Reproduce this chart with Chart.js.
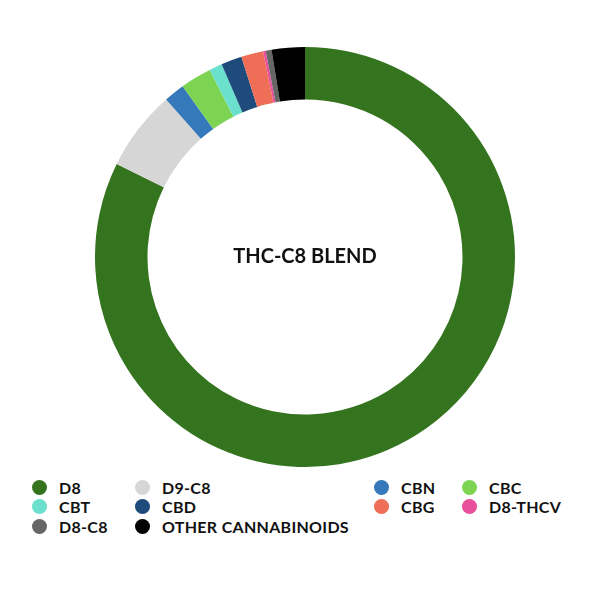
<!DOCTYPE html>
<html>
<head>
<meta charset="utf-8">
<script src="https://cdn.jsdelivr.net/npm/chart.js@4"></script>
<style>
  html, body { margin: 0; padding: 0; background: #fff; }
  body { width: 600px; height: 600px; position: relative; overflow: hidden; font-family: Lato, "Noto Sans", sans-serif; }
  .chart-wrap { position: absolute; left: 95px; top: 47px; width: 420px; height: 420px; }
  .legend { position: absolute; left: 32px; top: 479px; display: grid;
    grid-template-columns: 103px 239px 88px auto; row-gap: 3.5px; }
  .legend-item { display: flex; align-items: center; height: 16px; font-size: 16px; font-weight: 700;
    color: #111; white-space: nowrap; letter-spacing: 0.3px; }
  .legend-dot { width: 15px; height: 15px; border-radius: 50%; margin-right: 12px; flex: none; }
</style>
</head>
<body>
<div class="chart-wrap"><canvas id="chart"></canvas></div>
<div class="legend" id="legend"></div>
<script>
const categories = ['D8', 'D9-C8', 'CBN', 'CBC', 'CBT', 'CBD', 'CBG', 'D8-THCV', 'D8-C8', 'OTHER CANNABINOIDS'];
const values = [82.3, 6.2, 1.6, 2.4, 1.0, 1.6, 1.7, 0.2, 0.45, 2.55];
const colors = ['#35741f', '#d6d6d6', '#3579ba', '#7dd352', '#6be0cc', '#1f4a7c', '#ee6e58', '#e8509e', '#666666', '#000000'];
const centerTitle = 'THC-C8 BLEND';

// legend order as laid out in rows of four
const legendOrder = ['D8', 'D9-C8', 'CBN', 'CBC', 'CBT', 'CBD', 'CBG', 'D8-THCV', 'D8-C8', 'OTHER CANNABINOIDS'];

const centerText = {
  id: 'centerText',
  afterDraw(chart) {
    const meta = chart.getDatasetMeta(0);
    if (!meta.data.length) return;
    const { x, y } = meta.data[0];
    const ctx = chart.ctx;
    ctx.save();
    ctx.font = '700 20px Lato, "Noto Sans", sans-serif';
    ctx.fillStyle = '#111';
    ctx.textAlign = 'center';
    ctx.textBaseline = 'middle';
    ctx.fillText(centerTitle, x, y);
    ctx.restore();
  }
};

new Chart(document.getElementById('chart'), {
  type: 'doughnut',
  data: {
    labels: categories,
    datasets: [{
      data: values,
      backgroundColor: colors,
      borderWidth: 0,
    }],
  },
  options: {
    responsive: true,
    maintainAspectRatio: false,
    animation: false,
    cutout: '75%',
    layout: { padding: 0 },
    plugins: {
      legend: { display: false },
      tooltip: { enabled: false },
    },
  },
  plugins: [centerText],
});

const legendEl = document.getElementById('legend');
legendOrder.forEach(name => {
  const i = categories.indexOf(name);
  const item = document.createElement('div');
  item.className = 'legend-item';
  const dot = document.createElement('span');
  dot.className = 'legend-dot';
  dot.style.background = colors[i];
  const label = document.createElement('span');
  label.textContent = name;
  item.appendChild(dot);
  item.appendChild(label);
  legendEl.appendChild(item);
});
</script>
</body>
</html>
